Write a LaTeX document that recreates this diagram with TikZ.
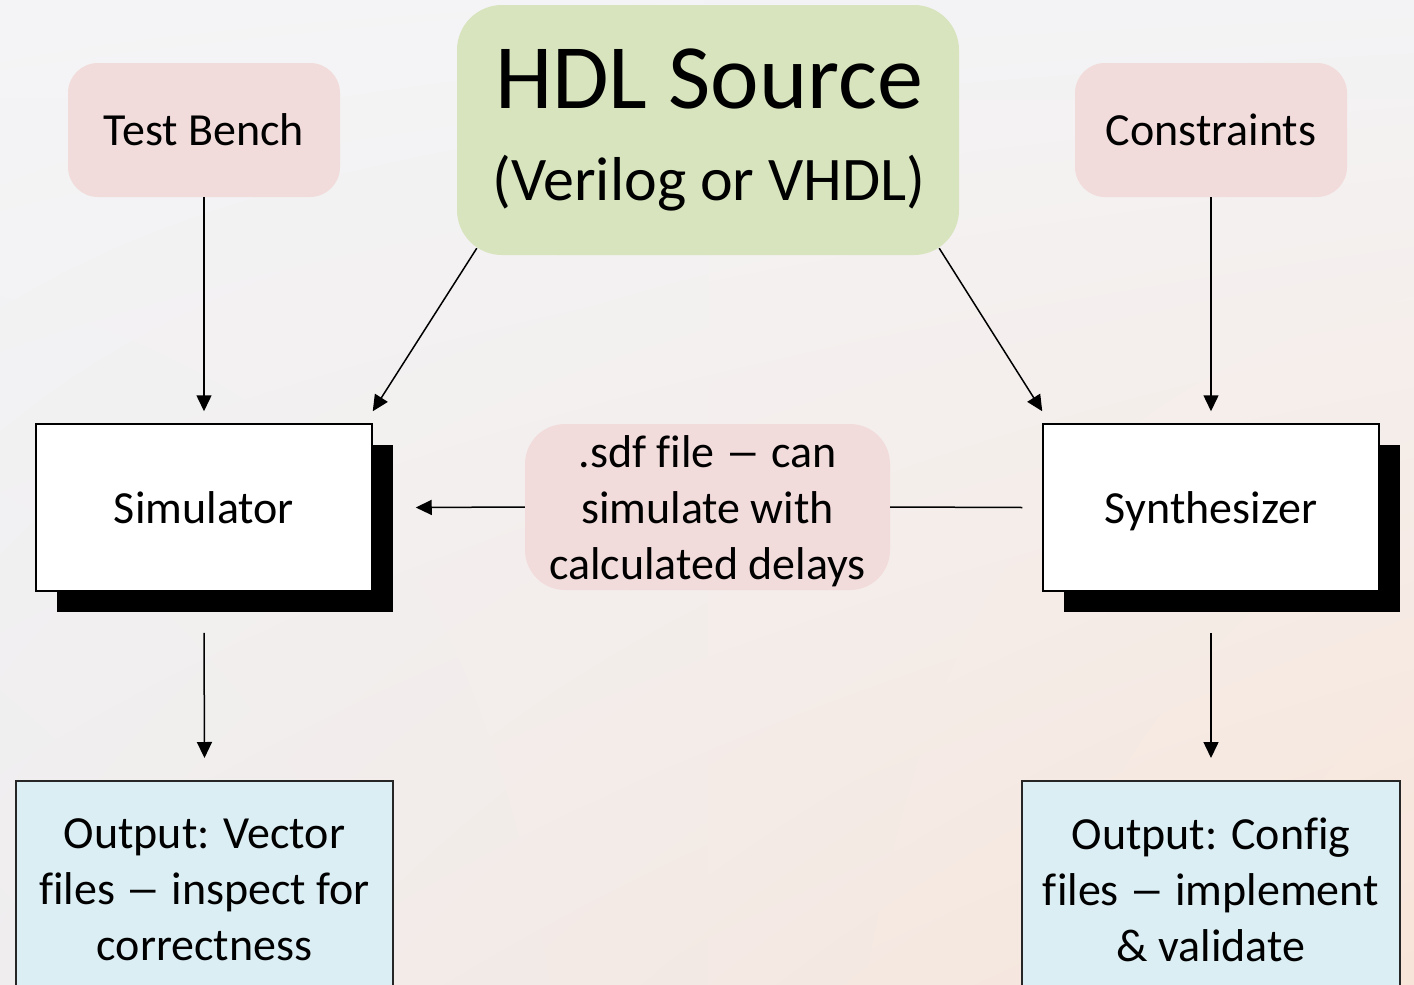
\documentclass[tikz,border=0pt]{standalone}
\usepackage{fontspec}
\setmainfont{Carlito}[Ligatures={TeX,NoCommon}]
\usetikzlibrary{arrows.meta,shadows,shadings}

\definecolor{bgTL}{HTML}{F4F4F6}
\definecolor{bgTR}{HTML}{F3F3F5}
\definecolor{bgBL}{HTML}{EFEDEE}
\definecolor{bgBR}{HTML}{F8E5D9}
\definecolor{pinkfill}{HTML}{F2DCDB}
\definecolor{greenfill}{HTML}{D7E4BD}
\definecolor{bluefill}{HTML}{DBEEF4}
\definecolor{outline}{HTML}{262626}

% a wider en dash
\newcommand{\wdash}{\scalebox{1.55}[1]{–}}

\tikzset{
  txt/.style={font=\fontsize{46}{56}\selectfont, align=center, inner sep=0pt},
  pinkbox/.style={txt, fill=pinkfill, rounded corners=30pt},
  toolbox/.style={txt, draw=black, line width=1.5pt, fill=white,
    text height=32pt, text depth=0pt,
    drop shadow={shadow xshift=21pt, shadow yshift=-21pt, fill=black, opacity=1}},
  outbox/.style={txt, draw=outline, line width=1.5pt, fill=bluefill},
  arr/.style={-{Triangle[length=16pt,width=15pt]}, line width=1.5pt},
}

\begin{document}
\begin{tikzpicture}[x=1pt,y=-1pt]
\useasboundingbox (0,0) rectangle (1414,985);
\shade[upper left=bgTL, upper right=bgTR, lower left=bgBL, lower right=bgBR]
  (0,0) rectangle (1414,985);

% inputs
\node[pinkbox, minimum width=272pt, minimum height=134pt] (tb) at (204,130) {Test Bench};
\node[pinkbox, minimum width=272pt, minimum height=134pt] (con) at (1211,130) {Constraints};

% source description
\node[fill=greenfill, rounded corners=45pt, minimum width=502pt, minimum height=250pt,
      inner sep=0pt] (hdl) at (708,130) {};
\node[anchor=base, inner sep=0pt, font=\fontsize{92}{100}\selectfont] (hdlA) at (709,108) {HDL Source};
\node[anchor=base, inner sep=0pt, font=\fontsize{62}{70}\selectfont] (hdlB) at (709,200) {(Verilog or VHDL)};

% tools
\node[toolbox, minimum width=336pt, minimum height=167pt] (sim) at (204,507.5) {Simulator};
\node[toolbox, minimum width=336pt, minimum height=167pt] (syn) at (1211,507.5) {Synthesizer};

% back-annotation
\node[pinkbox, rounded corners=40pt, minimum width=365pt, minimum height=166pt]
  (sdf) at (707.5,507) {\rule{0pt}{40pt}.sdf file \wdash{} can\\simulate with\\calculated delays};

% results
\node[outbox, anchor=north, minimum width=377pt, minimum height=218pt]
  (outL) at (204.5,780) {Output: Vector\\files \wdash{} inspect for\\correctness};
\node[outbox, anchor=north, minimum width=378pt, minimum height=218pt]
  (outR) at (1211,780) {Output: Config\\files \wdash{} implement\\\& validate};

% connectors
\draw[arr] (tb.south) -- ([yshift=12pt]sim.north);
\draw[arr] (con.south) -- ([yshift=12pt]syn.north);
\draw[arr] ([xshift=20pt,yshift=7pt]hdl.south west) -- ([yshift=12pt]sim.north east);
\draw[arr] ([xshift=-20pt,yshift=7pt]hdl.south east) -- ([yshift=12pt]syn.north west);
\draw[arr] ([yshift=-41pt]sim.south) -- ([yshift=22pt]outL.north);
\draw[arr] ([yshift=-41pt]syn.south) -- ([yshift=22pt]outR.north);
\draw[arr] (sdf.west) -- ([xshift=43pt]sim.east);
\draw[line width=1.5pt] ([xshift=-20pt]syn.west) -- (sdf.east);
\end{tikzpicture}
\end{document}
